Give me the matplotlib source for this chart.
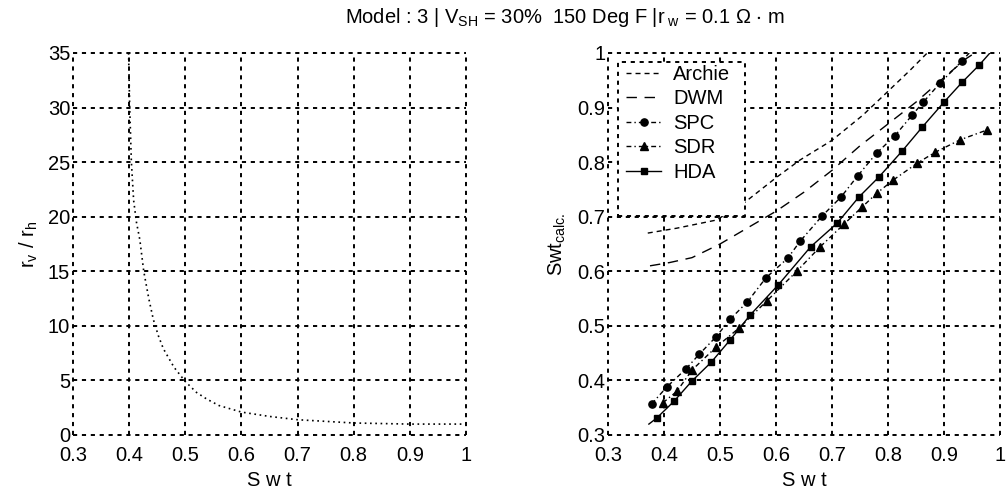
import matplotlib
matplotlib.use("Agg")
import matplotlib.pyplot as plt
from matplotlib.patches import Rectangle
from matplotlib.lines import Line2D

plt.rcParams['font.family'] = ['Liberation Sans', 'DejaVu Sans']
plt.rcParams['mathtext.fontset'] = 'custom'
plt.rcParams['mathtext.rm'] = 'Liberation Sans'
plt.rcParams['mathtext.it'] = 'Liberation Sans'
plt.rcParams['mathtext.default'] = 'regular'
plt.rcParams['lines.scale_dashes'] = False

# ---------------- data ----------------
ratio_x = [0.399, 0.401, 0.404, 0.408, 0.413, 0.419, 0.426, 0.435, 0.443, 0.452, 0.461,
           0.48, 0.50, 0.52, 0.538, 0.56, 0.6, 0.65, 0.7, 0.75, 0.8, 0.85, 0.9, 0.95, 1.0]
ratio_y = [35, 30, 25, 21.5, 19.5, 17.9, 15.0, 12.5, 10.6, 9.1, 7.9,
           6.2, 4.9, 3.9, 3.3, 2.7, 2.1, 1.7, 1.4, 1.25, 1.1, 1.05, 1.0, 1.0, 1.0]

archie_x = [0.371, 0.423, 0.494, 0.545, 0.602, 0.643, 0.70, 0.755, 0.79, 0.84, 0.87]
archie_y = [0.670, 0.679, 0.694, 0.727, 0.773, 0.804, 0.84, 0.886, 0.92, 0.969, 1.0]

dwm_x = [0.375, 0.41, 0.45, 0.5, 0.55, 0.6, 0.65, 0.7, 0.75, 0.8, 0.85, 0.9, 0.94, 0.955]
dwm_y = [0.61, 0.616, 0.625, 0.65, 0.68, 0.71, 0.745, 0.785, 0.83, 0.87, 0.91, 0.955, 0.99, 1.0]

spc_x = [0.378, 0.405, 0.439, 0.463, 0.493, 0.518, 0.549, 0.582, 0.621, 0.643, 0.682,
         0.716, 0.746, 0.780, 0.812, 0.843, 0.863, 0.893, 0.932, 0.945]
spc_y = [0.357, 0.388, 0.421, 0.448, 0.480, 0.512, 0.544, 0.588, 0.624, 0.655, 0.701,
         0.736, 0.775, 0.817, 0.848, 0.886, 0.910, 0.945, 0.985, 1.0]

sdr_x = [0.398, 0.423, 0.450, 0.493, 0.534, 0.584, 0.637, 0.679, 0.722, 0.754, 0.780,
         0.809, 0.852, 0.884, 0.929, 0.977]
sdr_y = [0.359, 0.380, 0.419, 0.461, 0.496, 0.546, 0.600, 0.645, 0.687, 0.718, 0.743,
         0.767, 0.798, 0.818, 0.841, 0.859]

hda_x = [0.373, 0.387, 0.418, 0.450, 0.484, 0.518, 0.554, 0.604, 0.662, 0.709, 0.748,
         0.784, 0.825, 0.861, 0.900, 0.933, 0.963, 0.982]
hda_y = [0.320, 0.331, 0.362, 0.399, 0.433, 0.474, 0.520, 0.575, 0.645, 0.688, 0.736,
         0.773, 0.820, 0.864, 0.910, 0.947, 0.978, 1.0]

x_ticks = [0.3, 0.4, 0.5, 0.6, 0.7, 0.8, 0.9, 1.0]
x_ticklabels = ['0.3', '0.4', '0.5', '0.6', '0.7', '0.8', '0.9', '1']
left_yticks = [0, 5, 10, 15, 20, 25, 30, 35]
right_yticks = [0.3, 0.4, 0.5, 0.6, 0.7, 0.8, 0.9, 1.0]
right_yticklabels = ['0.3', '0.4', '0.5', '0.6', '0.7', '0.8', '0.9', '1']
legend_labels = ['Archie', 'DWM', 'SPC', 'SDR', 'HDA']

title_text = r'Model : 3 | V$_{SH}$ = 30%  150 Deg F |r$_{\ w}$ = 0.1 $\Omega$ $\cdot$ m'

# ---------------- figure ----------------
FS = 14.5
fig = plt.figure(figsize=(10.06, 4.93), dpi=100)
W, H = 1006, 493


def make_axes(x0, x1, y0, y1):
    return fig.add_axes([x0 / W, 1 - y1 / H, (x1 - x0) / W, (y1 - y0) / H])


grid_style = dict(color='black', linestyle=(0, (3.0, 3.4)), linewidth=1.4)


def style_axes(ax):
    for s in ax.spines.values():
        s.set_visible(False)
    ax.grid(True, **grid_style)
    ax.set_axisbelow(True)
    for gl in ax.get_xgridlines() + ax.get_ygridlines():
        gl.set_clip_on(False)
    ax.tick_params(axis='both', direction='in', length=0, labelsize=FS)
    ax.tick_params(axis='x', pad=8)
    ax.tick_params(axis='y', pad=2)


# left
axL = make_axes(73, 466, 53, 435)
axL.plot(ratio_x, ratio_y, color='black', linestyle=(0, (1.2, 2.6)), linewidth=1.2)
axL.set_xlim(0.3, 1.0)
axL.set_ylim(0, 35)
axL.set_xticks(x_ticks)
axL.set_xticklabels(x_ticklabels)
axL.set_yticks(left_yticks)
style_axes(axL)
axL.set_xlabel('S w t', fontsize=FS, labelpad=4)
axL.set_ylabel(r'r$_{v}$ / r$_{h}$', fontsize=FS, labelpad=6)

# right
axR = make_axes(608, 1000, 53, 435)
lw = 1.0
axR.plot(archie_x, archie_y, color='black', linestyle=(0, (3.6, 2.9)), linewidth=lw)
axR.plot(dwm_x, dwm_y, color='black', linestyle=(0, (7.5, 5.5)), linewidth=lw)
axR.plot(spc_x, spc_y, color='black', linestyle=(0, (3.5, 2.2, 1, 2.2)), linewidth=lw,
         marker='o', markersize=5.2, markevery=list(range(len(spc_x) - 1)))
axR.plot(sdr_x, sdr_y, color='black', linestyle=(0, (3.5, 2.2, 1, 2.2)), linewidth=lw,
         marker='^', markersize=5.8)
axR.plot(hda_x, hda_y, color='black', linestyle='-', linewidth=lw,
         marker='s', markersize=4.8, markevery=list(range(1, len(hda_x) - 1)))
axR.set_xlim(0.3, 1.0)
axR.set_ylim(0.3, 1.0)
axR.set_xticks(x_ticks)
axR.set_xticklabels(x_ticklabels)
axR.set_yticks(right_yticks)
axR.set_yticklabels(right_yticklabels)
style_axes(axR)
axR.set_xlabel('S w t', fontsize=FS, labelpad=4)
axR.set_ylabel(r'Swt$_{calc.}$', fontsize=FS, labelpad=7)

# legend box (dotted frame, opaque)
bx0 = (618 - 608) / 392
bx1 = (745 - 608) / 392
by1 = (435 - 62) / 382
by0 = (435 - 216) / 382
rect = Rectangle((bx0, by0), bx1 - bx0, by1 - by0, transform=axR.transAxes,
                 facecolor='white', edgecolor='black', linestyle=(0, (3.0, 3.4)),
                 linewidth=1.4, zorder=5, clip_on=False)
axR.add_patch(rect)

handles = [
    Line2D([], [], color='black', linestyle=(0, (3.6, 2.9)), linewidth=lw),
    Line2D([], [], color='black', linestyle=(0, (7.5, 5.5)), linewidth=lw),
    Line2D([], [], color='black', linestyle=(0, (3.5, 2.2, 1, 2.2)), linewidth=lw,
           marker='o', markersize=5.2),
    Line2D([], [], color='black', linestyle=(0, (3.5, 2.2, 1, 2.2)), linewidth=lw,
           marker='^', markersize=5.8),
    Line2D([], [], color='black', linestyle='-', linewidth=lw, marker='s', markersize=4.8),
]
leg = axR.legend(handles, legend_labels, loc='upper left',
                 bbox_to_anchor=((626 - 608) / 392, (435 - 65) / 382),
                 frameon=False, fontsize=FS, handlelength=1.75, handletextpad=0.6,
                 labelspacing=0.27, borderpad=0.0, borderaxespad=0.0)
leg.set_zorder(6)

fig.text(565 / W, 1 - 23 / H, title_text, ha='center', va='baseline', fontsize=FS)

fig.savefig('out.png', dpi=100)
